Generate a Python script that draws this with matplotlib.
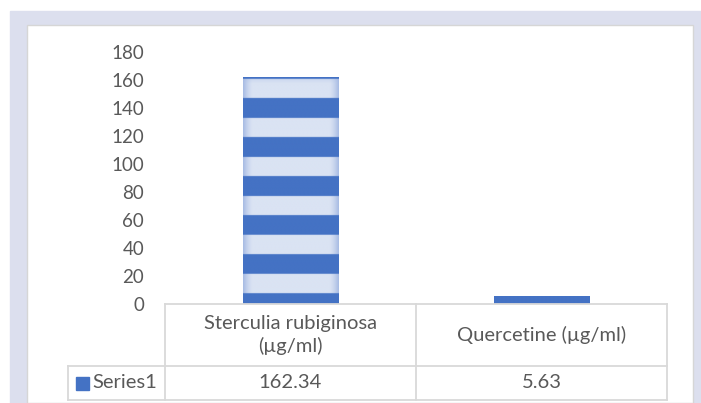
import numpy as np
import matplotlib.pyplot as plt
from matplotlib.patches import Rectangle
from matplotlib.lines import Line2D
import matplotlib.transforms as mtransforms

plt.rcParams['font.family'] = ['Lato', 'DejaVu Sans']

categories = ['Sterculia rubiginosa\n(µg/ml)', 'Quercetine (µg/ml)']
values = [162.34, 5.63]
value_labels = ['162.34', '5.63']
series_name = 'Series1'
yticks = [0, 20, 40, 60, 80, 100, 120, 140, 160, 180]

W, H = 701, 403
blue = '#4472C4'
light = np.array([0xDA, 0xE3, 0xF3]) / 255
edge = np.array([0xA8, 0xBC, 0xE4]) / 255
bluec = np.array([0x44, 0x72, 0xC4]) / 255
grid_col = '#D9D9D9'
text_col = '#595959'

fig = plt.figure(figsize=(W / 100, H / 100), dpi=100)
fig.patch.set_facecolor('white')

def fx(x):
    return x / W

def fy(y):
    return 1 - y / H

# lavender frame + white panel
fig.add_artist(Rectangle((fx(10), 0), fx(701 - 10), fy(11), color='#DCDFEE', zorder=-10))
fig.add_artist(Rectangle((fx(27), 0), fx(693 - 27), fy(25), facecolor='white',
                         edgecolor='#D6D6D6', lw=1.0, zorder=-9))

ax = fig.add_axes([fx(165), fy(304), fx(667 - 165), (304 - 52) / H])
ax.set_facecolor('none')
x = np.arange(len(categories))
bw = 0.38
bars = ax.bar(x, values, width=bw, color='none', edgecolor='none')

# striped fill with soft side gradient
P = 27.8       # stripe period (data units)
off = -6.4     # start of a blue band
bwid = 14.1    # blue band thickness
for rect, v in zip(bars, values):
    nr, nc = 800, 120
    ys = np.linspace(v, 0, nr)
    xs = np.linspace(-1, 1, nc)
    side = np.clip((np.abs(xs) - 0.8) / 0.2, 0, 1) ** 1.5
    img = np.zeros((nr, nc, 3))
    lb = light[None, :] * (1 - side[:, None]) + edge[None, :] * side[:, None]
    for i, yy in enumerate(ys):
        ph = (yy - off) % P
        if ph < bwid or yy > v - 1.3:
            img[i] = bluec
        else:
            t = np.clip(1 - (v - 1.3 - yy) / 4, 0, 1) * 0.35
            img[i] = lb * (1 - t) + edge * t
    im = ax.imshow(img, extent=(rect.get_x(), rect.get_x() + rect.get_width(), 0, v),
                   aspect='auto', interpolation='bilinear', zorder=2)
    im.set_clip_path(rect)

ax.set_xlim(-0.5, len(categories) - 0.5)
ax.set_ylim(0, 180)
ax.set_yticks(yticks)
ax.set_xticks([])
ax.tick_params(axis='y', length=0, labelsize=13.5, labelcolor=text_col, pad=15)
for s in ['top', 'right', 'left']:
    ax.spines[s].set_visible(False)
ax.spines['bottom'].set_color(grid_col)
ax.spines['bottom'].set_linewidth(1.3)

# data table below the axis
def hline(y, x0, x1):
    fig.add_artist(Line2D([fx(x0), fx(x1)], [fy(y), fy(y)], color=grid_col, lw=1.3))

def vline(xp, y0, y1):
    fig.add_artist(Line2D([fx(xp), fx(xp)], [fy(y0), fy(y1)], color=grid_col, lw=1.3))

hline(366, 68, 667)
hline(400, 68, 667)
vline(68, 366, 400)
vline(165, 304, 400)
vline(416, 304, 400)
vline(667, 304, 400)

tr = mtransforms.blended_transform_factory(ax.transData, fig.transFigure)
for xi, lab, vl in zip(x, categories, value_labels):
    ax.text(xi, fy(335), lab, transform=tr, ha='center', va='center', fontsize=14.5,
            color=text_col, linespacing=1.3)
    ax.text(xi, fy(383), vl, transform=tr, ha='center', va='center', fontsize=14.5,
            color=text_col)

fig.add_artist(Rectangle((fx(76), fy(390)), fx(13), 13 / H, color=blue))
fig.text(fx(92), fy(383), series_name, ha='left', va='center', fontsize=14.5, color=text_col)

fig.savefig('out.png', dpi=100)
